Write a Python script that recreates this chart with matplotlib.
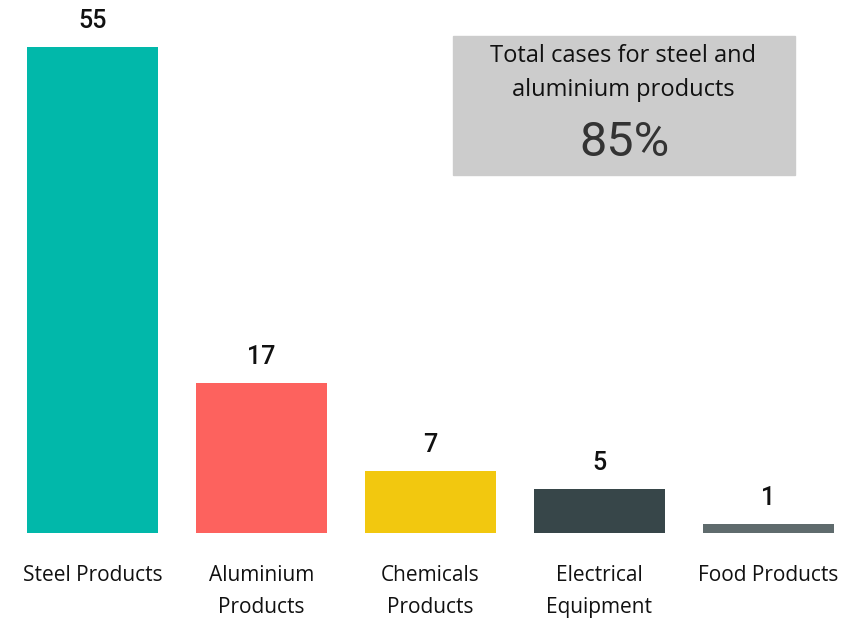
import numpy as np
import matplotlib.pyplot as plt
from matplotlib.patches import Rectangle

categories = ['Steel Products', 'Aluminium\nProducts', 'Chemicals\nProducts',
              'Electrical\nEquipment', 'Food Products']
cases = [55, 17, 7, 5, 1]
colors = ['#01B8AA', '#FD625E', '#F2C80F', '#374649', '#5F6B6D']

card_title = 'Total cases for steel and\naluminium products'
card_value = '85%'

fig = plt.figure(figsize=(8.65, 6.18), dpi=100)
ax = fig.add_axes([8 / 865, 85 / 618, 845 / 865, 530 / 618])

x = np.arange(len(categories))
bars = ax.bar(x, cases, width=0.775, color=colors)

for xi, v in zip(x, cases):
    ax.annotate(str(v), (xi, v), xytext=(0, 10), textcoords='offset points',
                ha='center', va='bottom', fontsize=18, family='Roboto',
                fontweight='medium', color='#111111')

ax.set_xlim(-0.5, len(categories) - 0.5)
ax.set_ylim(0, 60)
ax.set_xticks(x)
ax.set_xticklabels(categories, fontsize=15, family='Open Sans',
                   color='#111111', linespacing=1.68)
ax.tick_params(axis='x', length=0, pad=23)
ax.set_yticks([])
for s in ax.spines.values():
    s.set_visible(False)

# summary card
fig.patches.append(Rectangle((453 / 865, 1 - 175 / 618), 342 / 865, 139 / 618,
                             transform=fig.transFigure, color='#CCCCCC',
                             zorder=0))
fig.text(623 / 865, 1 - 73 / 618, card_title, ha='center', va='center',
         fontsize=17, family='Open Sans', color='#111111', linespacing=1.55)
fig.text(624 / 865, 1 - 143 / 618, card_value, ha='center', va='center',
         fontsize=35, family='Roboto', color='#333333')

plt.savefig('out.png', dpi=100)
